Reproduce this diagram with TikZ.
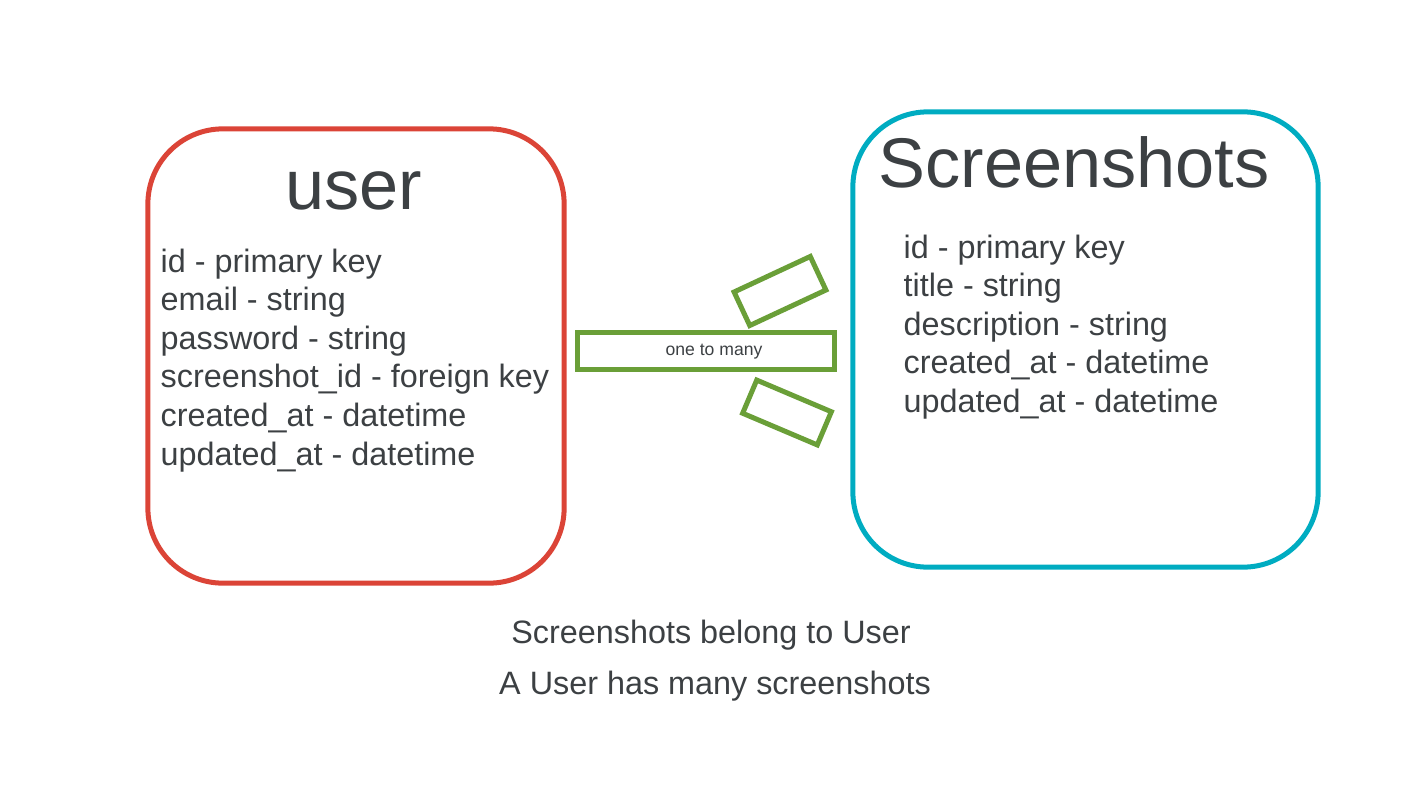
\documentclass[tikz,border=0pt]{standalone}
\usepackage{fontspec}
\setmainfont{Liberation Sans}
\usepackage{tikz}
\usetikzlibrary{positioning}
\definecolor{myred}{RGB}{219,68,55}
\definecolor{mycyan}{RGB}{0,172,193}
\definecolor{mygreen}{RGB}{106,159,56}
\definecolor{mygray}{RGB}{60,64,67}
\tikzstyle{entity}=[draw,line width=0.05cm,rounded corners=0.75cm,inner sep=0pt]
\tikzstyle{title}=[text=mygray,inner sep=0pt,anchor=base,font=\fontsize{20pt}{24pt}\selectfont]
\tikzstyle{field}=[text=mygray,inner sep=0pt,anchor=base west,font=\fontsize{9.2pt}{11pt}\selectfont]
\tikzstyle{foot}=[draw=mygreen,line width=0.05cm,inner sep=0pt]
\begin{document}
\begin{tikzpicture}[x=0.01cm,y=-0.01cm]
\useasboundingbox (0,0) rectangle (1422,800);
% the two tables
\node [entity, draw=myred, minimum width=4.16cm, minimum height=4.54cm] (user) at (356,356) {};
\node [entity, draw=mycyan, minimum width=4.65cm, minimum height=4.55cm] (shots) at (1085.5,339.5) {};
\node [title] (usertitle) at (354,209) {user};
\node [title] (shotstitle) at (1074,187) {Screenshots};
\foreach \t [count=\i] in {id - primary key, email - string, password - string,
  screenshot\_id - foreign key, created\_at - datetime, updated\_at - datetime}
  \node [field] (uf\i) at (160,272+38.6*\i-38.6) {\t};
\foreach \t [count=\i] in {id - primary key, title - string, description - string,
  created\_at - datetime, updated\_at - datetime}
  \node [field] (sf\i) at (903,258+38.6*\i-38.6) {\t};
% relation
\node [foot, minimum width=2.56cm, minimum height=0.36cm] (rel) at (706,351) {};
\node [text=mygray, inner sep=0pt, anchor=base, font=\fontsize{5pt}{6pt}\selectfont] (rellabel) at (714,355) {one to many};
\node [foot, minimum width=0.84cm, minimum height=0.37cm, rotate=25] (footup) at (780,291) {};
\node [foot, minimum width=0.81cm, minimum height=0.36cm, rotate=-23] (footdown) at (787,412.5) {};
% notes
\node [field, anchor=base] (note1) at (711,643) {Screenshots belong to User};
\node [field, anchor=base] (note2) at (715,694) {A User has many screenshots};
\end{tikzpicture}
\end{document}
